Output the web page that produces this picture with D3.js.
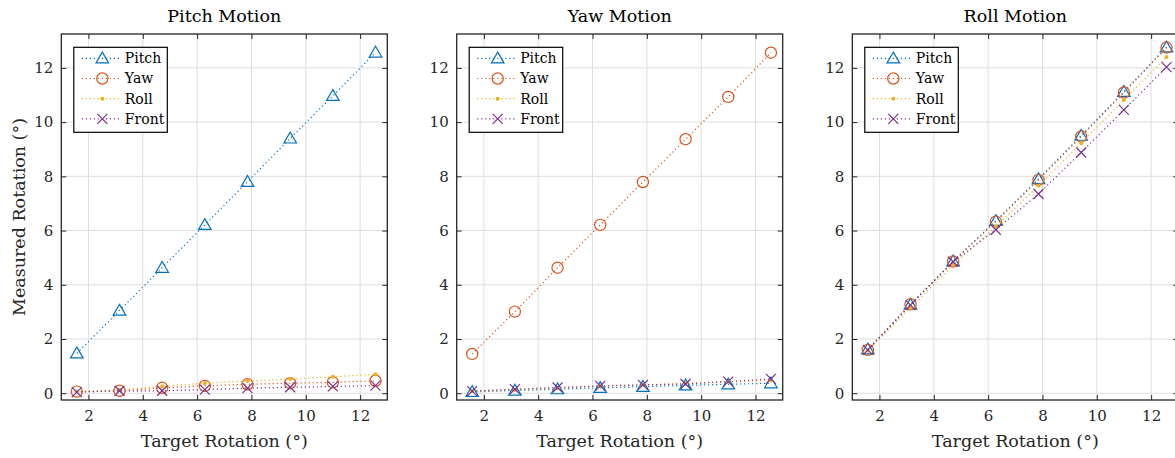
<!DOCTYPE html>
<html>
<head>
<meta charset="utf-8">
<script src="https://cdn.jsdelivr.net/npm/d3@7"></script>
<style>
  body { margin: 0; background: #fff; }
  svg { display: block; }
  svg text { font-family: "DejaVu Serif", "Liberation Serif", "Noto Serif", serif; }
</style>
</head>
<body>
<div id="chart"></div>
<script>
// target rotations (deg), same for every panel
const targets = [1.571, 3.142, 4.712, 6.283, 7.854, 9.425, 10.996, 12.566]

const panelTitles = ["Pitch Motion", "Yaw Motion", "Roll Motion"]
const seriesNames = ["Pitch", "Yaw", "Roll", "Front"]
const xTicks = [2, 4, 6, 8, 10, 12]
const yTicks = [0, 2, 4, 6, 8, 10, 12]

// pitch motion panel
const pitchMotionPitch = [1.47, 3.05, 4.63, 6.21, 7.8, 9.4, 10.97, 12.57]
const pitchMotionYaw   = [0.06, 0.09, 0.2, 0.27, 0.33, 0.37, 0.4, 0.46]
const pitchMotionRoll  = [0.06, 0.12, 0.26, 0.37, 0.45, 0.52, 0.61, 0.7]
const pitchMotionFront = [0.04, 0.09, 0.09, 0.13, 0.19, 0.22, 0.25, 0.28]

// yaw motion panel
const yawMotionPitch = [0.05, 0.1, 0.15, 0.2, 0.24, 0.29, 0.33, 0.37]
const yawMotionYaw   = [1.45, 3.01, 4.63, 6.21, 7.79, 9.37, 10.93, 12.56]
const yawMotionRoll  = [0.07, 0.12, 0.19, 0.26, 0.3, 0.37, 0.42, 0.47]
const yawMotionFront = [0.08, 0.15, 0.21, 0.27, 0.31, 0.34, 0.43, 0.53]

// roll motion panel
const rollMotionPitch = [1.62, 3.27, 4.87, 6.36, 7.9, 9.5, 11.12, 12.76]
const rollMotionYaw   = [1.6, 3.28, 4.86, 6.33, 7.87, 9.47, 11.09, 12.75]
const rollMotionRoll  = [1.57, 3.14, 4.73, 6.15, 7.65, 9.22, 10.82, 12.4]
const rollMotionFront = [1.6, 3.25, 4.85, 6.03, 7.35, 8.88, 10.45, 12.03]

const panelData = [
    [pitchMotionPitch, pitchMotionYaw, pitchMotionRoll, pitchMotionFront],
    [yawMotionPitch, yawMotionYaw, yawMotionRoll, yawMotionFront],
    [rollMotionPitch, rollMotionYaw, rollMotionRoll, rollMotionFront]
]

const colors = ["#0072BD", "#D95319", "#EDB120", "#7E2F8E"]
const markers = ["triangle", "circle", "dot", "cross"]

const width = 1175, height = 458
const panelLeft = [61.3, 456.7, 852.3]
const panelW = 326
const plotTop = 34, plotBottom = 400
const font = "\"DejaVu Serif\", \"Liberation Serif\", \"Noto Serif\", serif"
const axisColor = "#262626"

const svg = d3.select("#chart").append("svg")
    .attr("width", width)
    .attr("height", height)

const x = d3.scaleLinear().domain([1, 13]).range([0, panelW])
const y = d3.scaleLinear().domain([-0.25, 13.25]).range([plotBottom - plotTop, 0])

const drawMarker = function (sel, type, color) {
    if (type === "triangle") {
        sel.append("path")
            .attr("d", "M0,-6.2L6.3,4.6L-6.3,4.6Z")
            .attr("fill", "none").attr("stroke", color).attr("stroke-width", 1.2)
    } else if (type === "circle") {
        sel.append("circle").attr("r", 5.6)
            .attr("fill", "none").attr("stroke", color).attr("stroke-width", 1.2)
    } else if (type === "dot") {
        sel.append("circle").attr("r", 2)
            .attr("fill", color)
    } else {
        sel.append("path")
            .attr("d", "M-5,-5L5,5M-5,5L5,-5")
            .attr("fill", "none").attr("stroke", color).attr("stroke-width", 1.2)
    }
}

panelData.forEach(function (series, p) {
    const g = svg.append("g")
        .attr("transform", "translate(" + panelLeft[p] + "," + plotTop + ")")
    const h = plotBottom - plotTop

    // grid
    g.append("g").selectAll("line").data(xTicks).enter().append("line")
        .attr("x1", d => x(d)).attr("x2", d => x(d))
        .attr("y1", 0).attr("y2", h)
        .attr("stroke", "#dedede").attr("stroke-width", 1)
    g.append("g").selectAll("line").data(yTicks).enter().append("line")
        .attr("y1", d => y(d)).attr("y2", d => y(d))
        .attr("x1", 0).attr("x2", panelW)
        .attr("stroke", "#dedede").attr("stroke-width", 1)

    // axes with inward ticks
    const xAxis = g.append("g").attr("transform", "translate(0," + h + ")")
        .call(d3.axisBottom(x).tickValues(xTicks).tickSizeInner(-5).tickSizeOuter(0).tickPadding(10))
    const xAxisTop = g.append("g")
        .call(d3.axisTop(x).tickValues(xTicks).tickSizeInner(-5).tickSizeOuter(0).tickFormat(""))
    const yAxis = g.append("g")
        .call(d3.axisLeft(y).tickValues(yTicks).tickSizeInner(-5).tickSizeOuter(0).tickPadding(8))
    const yAxisRight = g.append("g").attr("transform", "translate(" + panelW + ",0)")
        .call(d3.axisRight(y).tickValues(yTicks).tickSizeInner(-5).tickSizeOuter(0).tickFormat(""))

    ;[xAxis, xAxisTop, yAxis, yAxisRight].forEach(function (a) {
        a.attr("font-family", null)
        a.select(".domain").remove()
        a.selectAll("line").attr("stroke", axisColor).attr("stroke-width", 1)
        a.selectAll("text")
            .style("font-family", font)
            .style("font-size", "15px")
            .attr("fill", axisColor)
    })

    g.append("rect")
        .attr("width", panelW).attr("height", h)
        .attr("fill", "none").attr("stroke", axisColor).attr("stroke-width", 1.3)

    // lines + markers
    const line = d3.line()
        .x((d, i) => x(targets[i]))
        .y(d => y(d))

    series.forEach(function (vals, s) {
        g.append("path")
            .datum(vals)
            .attr("d", line)
            .attr("fill", "none")
            .attr("stroke", colors[s])
            .attr("stroke-width", 1.2)
            .attr("stroke-dasharray", "1.2 2.8")

        const m = g.append("g").selectAll("g").data(vals).enter().append("g")
            .attr("transform", (d, i) => "translate(" + x(targets[i]) + "," + y(d) + ")")
        drawMarker(m, markers[s], colors[s])
    })

    // title
    g.append("text")
        .attr("x", panelW / 2).attr("y", -12)
        .attr("text-anchor", "middle")
        .style("font-family", font)
        .style("font-size", "17.5px")
        .attr("fill", "#000")
        .text(panelTitles[p])

    // x label
    g.append("text")
        .attr("x", panelW / 2).attr("y", h + 47)
        .attr("text-anchor", "middle")
        .style("font-family", font)
        .style("font-size", "17.5px")
        .attr("fill", axisColor)
        .text("Target Rotation (°)")

    if (p === 0) {
        g.append("text")
            .attr("transform", "translate(-36," + h / 2 + ") rotate(-90)")
            .attr("text-anchor", "middle")
            .style("font-family", font)
            .style("font-size", "17.5px")
            .attr("fill", axisColor)
            .text("Measured Rotation (°)")
    }

    // legend
    const lg = g.append("g").attr("transform", "translate(12.5,13.3)")
    lg.append("rect")
        .attr("width", 93.5).attr("height", 85)
        .attr("fill", "#fff").attr("stroke", "#000").attr("stroke-width", 1.2)
    seriesNames.forEach(function (name, s) {
        const ry = 11 + s * 20.2
        lg.append("line")
            .attr("x1", 8).attr("x2", 47).attr("y1", ry).attr("y2", ry)
            .attr("stroke", colors[s]).attr("stroke-width", 1.2)
            .attr("stroke-dasharray", "1.2 2.8")
        const mk = lg.append("g").attr("transform", "translate(28.5," + ry + ")")
        drawMarker(mk, markers[s], colors[s])
        lg.append("text")
            .attr("x", 51).attr("y", ry).attr("dy", "0.35em")
            .style("font-family", font)
            .style("font-size", "14px")
            .attr("fill", "#000")
            .text(name)
    })
})
</script>
</body>
</html>
